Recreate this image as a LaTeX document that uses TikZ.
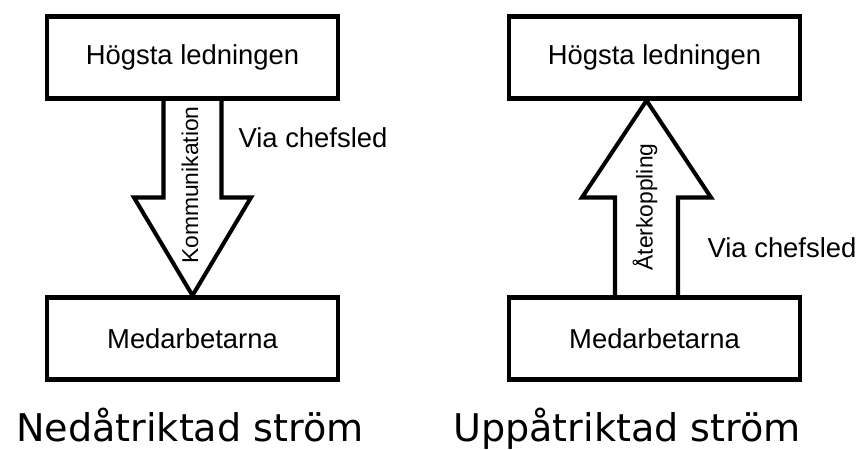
\documentclass[tikz,border=0pt]{standalone}
\usepackage{fontspec}
\setmainfont{Liberation Sans}
\newfontfamily\titlefont{DejaVu Sans}
\usetikzlibrary{calc, backgrounds}

\begin{document}
\begin{tikzpicture}[
  x=0.02cm, y=-0.02cm,
  box/.style={draw, line width=2.3pt, fill=white, minimum width=5.82cm,
    minimum height=1.64cm, font=\fontsize{15.6}{18}\selectfont},
  flow/.style={draw, line width=2.3pt, fill=white, line join=miter},
  lbl/.style={font=\fontsize{15.6}{18}\selectfont},
  vlbl/.style={font=\fontsize{13}{15}\selectfont, rotate=90},
  title/.style={font=\titlefont\fontsize{21.7}{26}\selectfont, anchor=base, inner sep=0pt}
]
  \useasboundingbox (0,0) rectangle (863,450);

  % Left: downward flow
  \node[box] (top1) at (192.5,57.5) {Högsta ledningen};
  \node[box] (bot1) at (192.5,338.5) {Medarbetarna};

  \begin{scope}[on background layer]
    \draw[flow] ($(top1.south)+(-29,-6)$) -- ($(top1.south)+(-29,97)$) -- ++(-29.5,0)
      -- (bot1.north) -- ($(top1.south)+(58.5,97)$) -- ++(-29.5,0)
      -- ($(top1.south)+(29,-6)$) -- cycle;
  \end{scope}

  \node[vlbl] (komm) at (190,185) {Kommunikation};
  \node[lbl] (via1) at (313,138) {Via chefsled};
  \node[title] (ned) at (190,441) {Nedåtriktad ström};

  % Right: upward flow
  \node[box] (top2) at (654.5,57.5) {Högsta ledningen};
  \node[box] (bot2) at (654.5,338.5) {Medarbetarna};
  \coordinate (foot) at ($(bot2.north)+(-8,0)$);

  \begin{scope}[on background layer]
    \draw[flow] ($(foot)+(-31.5,6)$) -- ($(foot)+(-31.5,-98)$) -- ++(-33,0)
      -- ($(top2.south)+(-8,0)$) -- ($(foot)+(64.5,-98)$) -- ++(-33,0)
      -- ($(foot)+(31.5,6)$) -- cycle;
  \end{scope}

  \node[vlbl] (ater) at (645,207) {Återkoppling};
  \node[lbl] (via2) at (782,248) {Via chefsled};
  \node[title] (upp) at (627,441) {Uppåtriktad ström};
\end{tikzpicture}
\end{document}
